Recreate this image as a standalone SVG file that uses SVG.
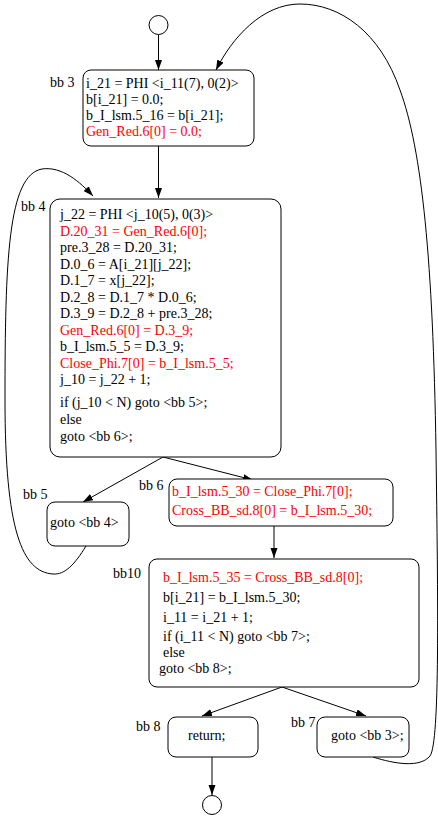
<svg xmlns="http://www.w3.org/2000/svg" width="438" height="817" viewBox="0 0 438 817">
<style>
text{font-family:"Liberation Serif","Times New Roman",serif;font-size:14px;fill:#000}
.r{fill:#ff0000}
.box{fill:#fff;stroke:#000;stroke-width:1}
.e{fill:none;stroke:#000;stroke-width:1}
</style>
<defs>
<marker id="ah" markerWidth="10" markerHeight="8" refX="10" refY="3.5" orient="auto" markerUnits="userSpaceOnUse">
<path d="M0,0 L10,3.5 L0,7 z" fill="#000"/>
</marker>
</defs>
<g id="connectors">
<path class="e" d="M158.5,34.5 L158.5,70" marker-end="url(#ah)"/>
<path class="e" d="M158.5,146 L158.5,198" marker-end="url(#ah)"/>
<path class="e" d="M163,457 L83,502" marker-end="url(#ah)"/>
<path class="e" d="M163,457 L253,480" marker-end="url(#ah)"/>
<path class="e" d="M274,526 L274,558" marker-end="url(#ah)"/>
<path class="e" d="M282,687 L202,716" marker-end="url(#ah)"/>
<path class="e" d="M282,687 L366,716" marker-end="url(#ah)"/>
<path class="e" d="M212,757 L212,795" marker-end="url(#ah)"/>
<path class="e" d="M86,546 C75,564 65,575 53,574 C22,572 5,530 5,400 C5,260 8,175 42,169 C62,166 80,182 93,196" marker-end="url(#ah)"/>
<path class="e" d="M373,757 C395,764 420,768 430,756 C440,742 438,600 436,450 C433,260 422,150 400,90 C380,32 340,4 300,4 C262,4 232,38 216,70" marker-end="url(#ah)"/>
</g>
<g id="start"><circle cx="158.5" cy="25" r="9.5" fill="#fff" stroke="#000"/></g>
<g id="bb3">
<rect class="box" x="83" y="70" width="171" height="76" rx="8"/>
<text x="50" y="87">bb 3</text>
<text x="86" y="88">i_21 = PHI &lt;i_11(7), 0(2)&gt;</text>
<text x="86" y="104">b[i_21] = 0.0;</text>
<text x="86" y="120">b_I_lsm.5_16 = b[i_21];</text>
<text x="86" y="136" class="r">Gen_Red.6[0] = 0.0;</text>
</g>
<g id="bb4">
<rect class="box" x="50" y="199" width="231" height="258" rx="10"/>
<text x="21" y="211">bb 4</text>
<text x="60" y="219">j_22 = PHI &lt;j_10(5), 0(3)&gt;</text>
<text x="60" y="236" class="r">D.20_31 = Gen_Red.6[0];</text>
<text x="60" y="252">pre.3_28 = D.20_31;</text>
<text x="60" y="269">D.0_6 = A[i_21][j_22];</text>
<text x="60" y="285">D.1_7 = x[j_22];</text>
<text x="60" y="302">D.2_8 = D.1_7 * D.0_6;</text>
<text x="60" y="318">D.3_9 = D.2_8 + pre.3_28;</text>
<text x="60" y="335" class="r">Gen_Red.6[0] = D.3_9;</text>
<text x="60" y="351">b_I_lsm.5_5 = D.3_9;</text>
<text x="60" y="368" class="r">Close_Phi.7[0] = b_I_lsm.5_5;</text>
<text x="60" y="384">j_10 = j_22 + 1;</text>
<text x="60" y="407">if (j_10 &lt; N) goto &lt;bb 5&gt;;</text>
<text x="60" y="424">else</text>
<text x="60" y="441">goto &lt;bb 6&gt;;</text>
</g>
<g id="bb5">
<rect class="box" x="47" y="502" width="82" height="44" rx="8"/>
<text x="23" y="499">bb 5</text>
<text x="50" y="527">goto &lt;bb 4&gt;</text>
</g>
<g id="bb6">
<rect class="box" x="169" y="479" width="224" height="47" rx="8"/>
<text x="139" y="490">bb 6</text>
<text x="172" y="496" class="r">b_I_lsm.5_30 = Close_Phi.7[0];</text>
<text x="172" y="515" class="r">Cross_BB_sd.8[0] = b_I_lsm.5_30;</text>
</g>
<g id="bb10">
<rect class="box" x="149" y="559" width="270" height="128" rx="8"/>
<text x="113" y="578">bb10</text>
<text x="163" y="582" class="r">b_I_lsm.5_35 = Cross_BB_sd.8[0];</text>
<text x="163" y="602">b[i_21] = b_I_lsm.5_30;</text>
<text x="163" y="622">i_11 = i_21 + 1;</text>
<text x="163" y="641">if (i_11 &lt; N) goto &lt;bb 7&gt;;</text>
<text x="163" y="657">else</text>
<text x="159" y="673">goto &lt;bb 8&gt;;</text>
</g>
<g id="bb8">
<rect class="box" x="168" y="717" width="90" height="40" rx="8"/>
<text x="136" y="731">bb 8</text>
<text x="188" y="740">return;</text>
</g>
<g id="bb7">
<rect class="box" x="317" y="717" width="92" height="40" rx="8"/>
<text x="291" y="727">bb 7</text>
<text x="331" y="740">goto &lt;bb 3&gt;;</text>
</g>
<g id="end"><circle cx="212" cy="805" r="9.5" fill="#fff" stroke="#000"/></g>
</svg>
